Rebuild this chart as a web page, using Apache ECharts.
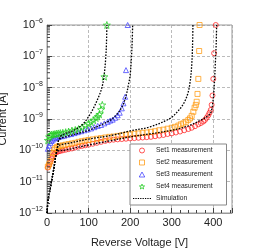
<!DOCTYPE html>
<html><head><meta charset="utf-8">
<script src="https://cdn.jsdelivr.net/npm/echarts@6/dist/echarts.min.js"></script>
<style>html,body{margin:0;padding:0;background:#fff}#c{width:260px;height:248px}</style>
</head><body><div id="c"></div>
<script>
// Reverse voltage [V] and log10(current [A])
const set1V = [2,5,8,11,14,17,20,24,28,32,38,45,52,60,68,76,84,92,100,110,120,130,140,150,160,170,180,190,200,210,220,230,240,250,260,270,280,290,300,310,320,330,340,348,356,364,370,376,380,384,388,391,394,396,398,400,402,406];
const set1LogI = [-10.55,-10.47,-10.38,-10.28,-10.19,-10.12,-10.08,-10.05,-10.03,-10.02,-10.0,-9.98,-9.96,-9.94,-9.91,-9.88,-9.86,-9.84,-9.82,-9.79,-9.76,-9.73,-9.70,-9.68,-9.66,-9.65,-9.64,-9.63,-9.62,-9.61,-9.60,-9.59,-9.58,-9.57,-9.55,-9.53,-9.51,-9.48,-9.46,-9.43,-9.40,-9.36,-9.32,-9.28,-9.23,-9.17,-9.13,-9.08,-9.03,-8.96,-8.88,-8.80,-8.71,-8.55,-8.25,-7.72,-6.9,-6.0];

const set2V = [2,5,8,11,14,17,20,24,28,32,38,45,52,60,68,76,84,92,100,110,120,130,140,150,160,170,180,190,200,210,220,230,240,250,260,270,280,290,300,308,316,322,328,334,340,344,348,352,355,358,360,362,364,366,367];
const set2LogI = [-10.52,-10.45,-10.35,-10.22,-10.08,-9.98,-9.93,-9.89,-9.87,-9.86,-9.84,-9.82,-9.80,-9.78,-9.76,-9.73,-9.71,-9.69,-9.67,-9.65,-9.63,-9.61,-9.59,-9.57,-9.56,-9.54,-9.52,-9.50,-9.49,-9.47,-9.46,-9.44,-9.43,-9.41,-9.39,-9.36,-9.34,-9.31,-9.28,-9.25,-9.21,-9.17,-9.14,-9.09,-9.03,-8.98,-8.9,-8.77,-8.64,-8.55,-8.45,-8.2,-7.72,-6.83,-6.0];

const set3V = [2,5,8,11,14,18,22,26,30,36,42,50,58,66,74,82,90,98,106,114,122,130,138,146,152,158,164,170,175,180,184,188,190,194];
const set3LogI = [-9.95,-9.85,-9.76,-9.7,-9.66,-9.62,-9.6,-9.58,-9.56,-9.55,-9.53,-9.5,-9.48,-9.45,-9.42,-9.39,-9.36,-9.33,-9.3,-9.26,-9.22,-9.19,-9.14,-9.09,-9.05,-9.02,-8.96,-8.88,-8.8,-8.66,-8.5,-8.29,-7.44,-6.0];

const set4V = [2,5,8,11,15,19,23,27,32,38,45,52,60,68,76,84,92,100,106,112,118,122,126,130,133,138,144];
const set4LogI = [-9.68,-9.57,-9.52,-9.5,-9.49,-9.48,-9.47,-9.46,-9.45,-9.44,-9.42,-9.4,-9.37,-9.35,-9.32,-9.27,-9.21,-9.15,-9.1,-9.04,-8.97,-8.92,-8.85,-8.7,-8.55,-7.65,-6.0];

const simAV = [0,3,8,16,21,25,30,41,60,75,88,104,113,124,132,137,141,143,144];
const simALogI = [-12,-11.55,-11.2,-10.62,-10.2,-9.92,-9.6,-9.48,-9.39,-9.28,-9.14,-8.84,-8.62,-8.3,-8.0,-7.65,-7.1,-6.6,-6.0];
const simBV = [0,3,8,16,21,25,29,50,80,100,128,154,170,182,190,196,200,203,205,206];
const simBLogI = [-12,-11.55,-11.2,-10.62,-10.2,-9.92,-9.66,-9.55,-9.44,-9.36,-9.2,-9.02,-8.82,-8.57,-8.27,-7.9,-7.6,-7.05,-6.5,-6.0];
const simCV = [0,3,8,16,21,25,28,50,100,160,200,248,296,315,328,338,344,348,350,351];
const simCLogI = [-12,-11.55,-11.2,-10.62,-10.2,-9.92,-9.84,-9.78,-9.64,-9.51,-9.38,-9.25,-8.98,-8.75,-8.52,-8.22,-7.85,-7.3,-6.7,-6.0];
const simDV = [0,3,8,16,21,24,30,40,100,150,200,250,300,340,368,385,394,399,402,405,407,408];
const simDLogI = [-12,-11.55,-11.2,-10.62,-10.2,-10.05,-10.01,-10.0,-9.83,-9.7,-9.57,-9.47,-9.36,-9.22,-9.05,-8.92,-8.8,-8.45,-8.0,-7.2,-6.6,-6.0];

const seriesNames = ['Set1 measurement','Set2 measurement','Set3 measurement','Set4 measurement','Simulation'];
const xTicks = [0,100,200,300,400];
const yDecades = [-12,-11,-10,-9,-8,-7,-6];

function pts(v, l){ return v.map((x,i)=>[x, Math.pow(10, l[i])]); }

const minorVals = [];
for (let k = yDecades[0]; k < yDecades[yDecades.length-1]; k++) {
  for (let m = 2; m <= 9; m++) minorVals.push([0, m*Math.pow(10,k)]);
}

const circlePath = 'circle';
const rectPath = 'path://M0,0H10V10H0Z';
const triPath = 'path://M5,0L10,9L0,9Z';
const starPath = 'path://M0,-10 L2.35,-3.24 9.51,-3.09 3.8,1.24 5.88,8.09 0,4 -5.88,8.09 -3.8,1.24 -9.51,-3.09 -2.35,-3.24Z';
let dots = '';
for (let i = 0; i < 8; i++) { const x = i*2.6; dots += 'M'+x+',0h1.4v1h-1.4Z '; }
const dotPath = 'path://' + dots;
const FONT = 'Liberation Sans, Arial, Helvetica, sans-serif';
const colors = ['#ff2020','#ff9a10','#3c3cff','#22cc22'];
const symbols = [circlePath, rectPath, triPath, starPath];

function scat(i, data, size){
  return {name:seriesNames[i], type:'scatter', data, symbol:symbols[i], symbolSize:size, clip:false,
    itemStyle:{color:'rgba(0,0,0,0)', borderColor:colors[i], borderWidth:0.9, opacity:0.85}, z:3};
}
function sim(data){
  return {name:'Simulation', type:'line', data, showSymbol:false, symbol:'none', smooth:0.35,
    itemStyle:{color:'#000'},
    lineStyle:{color:'#000', width:1.3, type:[1.6,1.4]}, z:4, clip:true};
}

const legendData = seriesNames.map((n,i)=> i<4
  ? {name:n, icon:symbols[i], itemStyle:{color:'rgba(0,0,0,0)', borderColor:colors[i], borderWidth:0.9}}
  : {name:n, icon:dotPath, itemStyle:{color:'#000', borderWidth:0}});

const chart = echarts.init(document.getElementById('c'), null, {renderer:'canvas'});
chart.setOption({
  animation:false,
  textStyle:{fontFamily:FONT},
  grid:{left:47, top:25, right:28, bottom:35, containLabel:false, outerBoundsMode:'none',
    show:true, borderColor:'#999', borderWidth:1, backgroundColor:'transparent'},
  legend:{
    orient:'vertical', left:130, top:144, data:legendData,
    backgroundColor:'#fff', borderColor:'#888', borderWidth:1, borderRadius:0,
    padding:[3,14,3,3], itemGap:5, itemWidth:18, itemHeight:5, symbolKeepAspect:true,
    textStyle:{fontSize:6.7, color:'#222', fontFamily:FONT, lineHeight:7},
    selectedMode:false
  },
  xAxis:{
    type:'value', min:0, max:445, interval:100,
    name:'Reverse Voltage [V]', nameLocation:'middle', nameGap:24,
    nameTextStyle:{fontSize:11, color:'#222'},
    axisLine:{show:true, lineStyle:{color:'#999'}},
    axisTick:{inside:true, length:5, lineStyle:{color:'#444'}},
    minorTick:{show:true, splitNumber:5, length:3, lineStyle:{color:'#444'}},
    axisLabel:{fontSize:11, color:'#222', margin:4, showMaxLabel:false,
      formatter:v=> xTicks.indexOf(v)>=0 ? String(v) : ''},
    splitLine:{show:true, lineStyle:{color:'#aaa', type:[3,2], width:0.8}}
  },
  yAxis:{
    type:'log', logBase:10, min:1e-12, max:1e-6, interval:1,
    name:'Current [A]', nameLocation:'middle', nameGap:36,
    nameTextStyle:{fontSize:11, color:'#222'},
    axisLine:{show:true, lineStyle:{color:'#999'}},
    axisTick:{inside:true, length:5, lineStyle:{color:'#444'}},
    axisLabel:{margin:4, color:'#222',
      formatter:v=>{const e=Math.round(Math.log10(v)); return '{b|10}{e|\u2212'+Math.abs(e)+'}';},
      rich:{b:{fontSize:11, color:'#222', fontFamily:FONT}, e:{fontSize:7, color:'#222', fontFamily:FONT, padding:[0,0,8,0]}}},
    splitLine:{show:true, lineStyle:{color:'#aaa', type:[3,2], width:0.8}}
  },
  series:[
    sim(pts(simAV, simALogI)),
    sim(pts(simBV, simBLogI)),
    sim(pts(simCV, simCLogI)),
    sim(pts(simDV, simDLogI)),
    scat(0, pts(set1V,set1LogI), 5),
    scat(1, pts(set2V,set2LogI), 5),
    scat(2, pts(set3V,set3LogI), 5),
    scat(3, pts(set4V,set4LogI), 7),
    {type:'custom', silent:true, data:minorVals, z:5, clip:false,
      renderItem:(params, api)=>{
        const p = api.coord([0, api.value(1)]);
        return {type:'line', shape:{x1:p[0], y1:p[1], x2:p[0]+3, y2:p[1]}, style:{stroke:'#444', lineWidth:1}};
      }}
  ]
});
</script></body></html>
